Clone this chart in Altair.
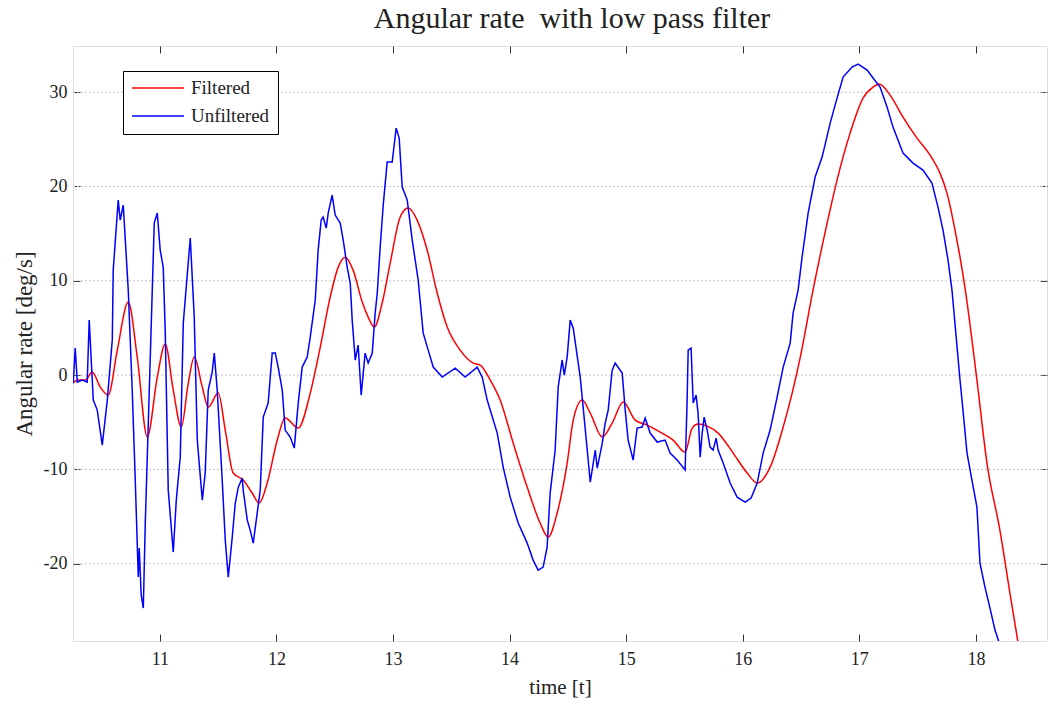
import altair as alt
import pandas as pd

# Unfiltered (blue) signal: time [t], angular rate [deg/s]
blue_t = [10.257, 10.274, 10.292, 10.335, 10.377, 10.394, 10.429, 10.463, 10.506, 10.549,
          10.592, 10.600, 10.643, 10.660, 10.686, 10.729, 10.763, 10.789, 10.815, 10.823,
          10.840, 10.858, 10.875, 10.901, 10.935, 10.952, 10.978, 11.003, 11.029, 11.046,
          11.072, 11.115, 11.141, 11.175, 11.201, 11.261, 11.295, 11.321, 11.364, 11.389,
          11.415, 11.449, 11.467, 11.492, 11.535, 11.561, 11.587, 11.621, 11.647, 11.673,
          11.707, 11.715, 11.750, 11.775, 11.801, 11.835, 11.861, 11.887, 11.929, 11.964,
          11.990, 12.015, 12.050, 12.075, 12.118, 12.153, 12.187, 12.221, 12.264, 12.290,
          12.333, 12.358, 12.384, 12.401, 12.427, 12.444, 12.478, 12.504, 12.547, 12.573,
          12.607, 12.633, 12.650, 12.676, 12.701, 12.727, 12.761, 12.787, 12.822, 12.847,
          12.865, 12.890, 12.916, 12.950, 12.993, 13.027, 13.053, 13.079, 13.122, 13.165,
          13.216, 13.259, 13.302, 13.345, 13.422, 13.534, 13.619, 13.722, 13.765, 13.808,
          13.894, 13.945, 14.005, 14.074, 14.151, 14.202, 14.245, 14.288, 14.322, 14.348,
          14.391, 14.417, 14.451, 14.469, 14.494, 14.520, 14.546, 14.606, 14.631, 14.666,
          14.692, 14.735, 14.752, 14.795, 14.820, 14.846, 14.880, 14.906, 14.966, 14.992,
          15.017, 15.060, 15.094, 15.137, 15.163, 15.206, 15.266, 15.334, 15.377, 15.437,
          15.506, 15.523, 15.532, 15.557, 15.575, 15.600, 15.617, 15.635, 15.652, 15.669,
          15.695, 15.720, 15.746, 15.772, 15.789, 15.832, 15.892, 15.952, 16.021, 16.072,
          16.124, 16.175, 16.235, 16.295, 16.347, 16.407, 16.432, 16.475, 16.509, 16.561,
          16.621, 16.681, 16.750, 16.809, 16.861, 16.938, 16.990, 17.067, 17.118, 17.178,
          17.238, 17.289, 17.375, 17.461, 17.546, 17.623, 17.675, 17.718, 17.761, 17.795,
          17.864, 17.881, 17.924, 17.966, 18.009, 18.035, 18.078, 18.121, 18.164, 18.198,
          18.210]
blue_v = [-0.85, 2.86, -0.74, -0.53, -0.74, 5.83, -2.65, -3.71, -7.42, -2.65,
          3.71, 11.13, 18.56, 16.44, 18.03, 9.01, -1.59, -11.13, -21.42, -18.35,
          -23.33, -24.71, -15.69, -5.09, 9.01, 16.12, 17.18, 13.26, 11.45, 4.77,
          -12.20, -18.77, -13.26, -8.70, 5.51, 14.53, 6.15, -6.89, -13.26, -10.39,
          -1.59, 0.32, 2.33, -1.59, -11.13, -17.50, -21.42, -17.18, -13.57, -11.88,
          -10.92, -12.20, -15.38, -16.44, -17.82, -14.63, -12.20, -4.45, -2.97, 2.33,
          2.33, 0.85, -1.59, -5.83, -6.57, -7.74, -2.97, 0.85, 1.91, 4.03,
          7.95, 13.26, 16.44, 16.76, 15.59, 17.18, 19.09, 16.97, 16.12, 14.32,
          11.45, 9.76, 5.83, 1.59, 3.18, -2.12, 2.33, 1.27, 2.33, 6.57,
          8.70, 13.57, 18.03, 22.59, 22.59, 26.19, 25.13, 19.94, 18.56, 14.32,
          10.07, 4.45, 2.65, 0.85, -0.21, 0.74, -0.21, 0.85, -0.21, -2.65,
          -6.15, -9.76, -12.94, -15.69, -17.82, -19.62, -20.68, -20.36, -18.24, -12.51,
          -7.95, -1.27, 1.59, 0.00, 1.91, 5.83, 4.98, -0.21, -3.39, -7.95,
          -11.35, -7.95, -9.86, -7.21, -5.09, -3.71, 0.53, 1.27, 0.21, -3.71,
          -6.89, -9.01, -5.62, -5.51, -4.56, -6.15, -7.10, -6.89, -8.27, -9.01,
          -10.07, -2.65, 2.65, 2.86, -2.97, -2.12, -4.03, -8.70, -6.15, -4.45,
          -5.83, -7.64, -7.95, -6.68, -7.95, -9.33, -11.45, -12.94, -13.47, -13.04,
          -11.45, -8.27, -5.83, -2.33, 0.85, 3.39, 6.57, 9.01, 12.51, 17.18,
          21.00, 23.12, 26.72, 29.37, 31.60, 32.66, 32.98, 32.34, 31.50, 30.54,
          28.42, 26.30, 23.54, 22.48, 21.74, 20.36, 17.82, 15.38, 12.20, 9.01,
          -0.53, -2.65, -8.27, -11.13, -14.00, -19.94, -22.48, -24.71, -27.04, -28.31,
          -29.20]

# Filtered (red) signal
red_t = [10.257, 10.292, 10.360, 10.420, 10.489, 10.557, 10.635, 10.729, 10.806, 10.892,
         10.978, 11.046, 11.115, 11.184, 11.244, 11.295, 11.364, 11.415, 11.501, 11.561,
         11.629, 11.715, 11.792, 11.852, 11.921, 12.007, 12.075, 12.187, 12.290, 12.376,
         12.461, 12.530, 12.590, 12.658, 12.736, 12.787, 12.839, 12.907, 12.976, 13.062,
         13.130, 13.207, 13.293, 13.379, 13.465, 13.576, 13.688, 13.748, 13.834, 13.919,
         14.031, 14.151, 14.262, 14.331, 14.408, 14.494, 14.546, 14.623, 14.692, 14.795,
         14.880, 14.975, 15.077, 15.180, 15.292, 15.403, 15.506, 15.566, 15.617, 15.695,
         15.789, 15.918, 16.038, 16.124, 16.235, 16.347, 16.492, 16.603, 16.724, 16.809,
         16.921, 17.032, 17.118, 17.170, 17.264, 17.375, 17.495, 17.607, 17.692, 17.752,
         17.821, 17.907, 18.009, 18.095, 18.206, 18.292, 18.361, 18.372]
red_v = [-0.85, -0.53, -0.53, 0.32, -1.27, -2.12, 2.65, 7.74, 1.91, -6.57,
         -0.21, 3.29, -1.59, -5.51, -0.85, 1.91, -1.27, -3.39, -1.91, -5.83,
         -10.39, -11.13, -12.51, -13.57, -11.45, -6.89, -4.56, -5.62, -1.91, 2.97,
         8.27, 11.45, 12.51, 11.13, 7.74, 6.15, 5.09, 7.64, 11.88, 16.76,
         17.71, 16.44, 13.26, 8.70, 5.09, 2.65, 1.27, 1.06, -0.53, -2.65,
         -7.21, -11.88, -15.69, -17.18, -14.63, -9.33, -4.77, -2.65, -4.03, -6.57,
         -5.09, -2.86, -4.77, -5.30, -6.04, -6.89, -8.17, -5.62, -5.20, -5.41,
         -6.15, -8.27, -10.39, -11.45, -9.76, -5.51, 1.80, 9.01, 16.12, 20.68,
         25.66, 29.37, 30.54, 30.86, 29.69, 27.36, 25.13, 23.33, 21.42, 19.30,
         15.38, 9.23, -0.53, -9.33, -16.44, -23.12, -28.31, -29.10]

series_names = ["Filtered", "Unfiltered"]
series_colors = ["#ff0000", "#0000ff"]
x_ticks = [11, 12, 13, 14, 15, 16, 17, 18]
y_ticks = [-20, -10, 0, 10, 20, 30]
x_domain = [10.255, 18.61]
y_domain = [-28.2, 34.9]

red_df = pd.DataFrame({"t": red_t, "v": red_v, "series": "Filtered"})
red_df["i"] = range(len(red_df))
blue_df = pd.DataFrame({"t": blue_t, "v": blue_v, "series": "Unfiltered"})
blue_df["i"] = range(len(blue_df))
grid_df = pd.DataFrame({"g": y_ticks})

FONT = "Liberation Serif"
INK = "#222"
LABEL_EXPR = "datum.value < 0 ? '-' + abs(datum.value) : '' + datum.value"

xscale = alt.Scale(domain=x_domain, nice=False, zero=False)
yscale = alt.Scale(domain=y_domain, nice=False, zero=False)
cscale = alt.Scale(domain=series_names, range=series_colors)

grid = alt.Chart(grid_df).mark_rule(color="#c4c4c4", strokeWidth=1, strokeDash=[2, 2]).encode(
    y=alt.Y("g:Q", scale=yscale, axis=None)
)

x_axis = alt.Axis(orient="bottom", values=x_ticks, offset=-7, tickSize=7, domain=False,
                  grid=False, labelPadding=9, titlePadding=8, tickColor="#333",
                  labelExpr=LABEL_EXPR,
                  labelFont=FONT, labelFontSize=18, titleFont=FONT, titleFontSize=21,
                  titleFontWeight="normal", labelColor=INK, titleColor=INK)
y_axis = alt.Axis(orient="left", values=y_ticks, offset=-7, tickSize=7, domain=False,
                  grid=False, labelPadding=6, titlePadding=7, tickColor="#333",
                  labelExpr=LABEL_EXPR,
                  labelFont=FONT, labelFontSize=18, titleFont=FONT, titleFontSize=23,
                  titleFontWeight="normal", labelColor=INK, titleColor=INK)
legend = alt.Legend(orient="none", legendX=50, legendY=25, title=None,
                    symbolType="stroke", symbolSize=2700, symbolStrokeWidth=1.5,
                    clipHeight=18, strokeColor="black", fillColor="white", padding=8,
                    labelFont=FONT, labelFontSize=19, labelColor=INK,
                    labelOffset=6, rowPadding=9)

red_line = alt.Chart(red_df).mark_line(clip=True, strokeWidth=1.5, interpolate="monotone").encode(
    x=alt.X("t:Q", scale=xscale, title="time [t]", axis=x_axis),
    y=alt.Y("v:Q", scale=yscale, title="Angular rate [deg/s]", axis=y_axis),
    color=alt.Color("series:N", scale=cscale, legend=legend),
    order="i:Q",
)

blue_line = alt.Chart(blue_df).mark_line(clip=True, strokeWidth=1.5).encode(
    x=alt.X("t:Q", scale=xscale, title="time [t]", axis=x_axis),
    y=alt.Y("v:Q", scale=yscale, title="Angular rate [deg/s]", axis=y_axis),
    color=alt.Color("series:N", scale=cscale, legend=legend),
    order="i:Q",
)

main = alt.layer(red_line, blue_line)

ghost = alt.Chart(blue_df).mark_line(opacity=0).encode(
    x=alt.X("t:Q", scale=xscale, title=None,
            axis=alt.Axis(orient="top", values=x_ticks, offset=-7, tickSize=7, domain=False,
                          grid=False, labels=False, tickColor="#333")),
    y=alt.Y("v:Q", scale=yscale, title=None,
            axis=alt.Axis(orient="right", values=y_ticks, offset=-7, tickSize=7, domain=False,
                          grid=False, labels=False, tickColor="#333")),
)

chart = alt.layer(grid, main, ghost).resolve_axis(x="independent", y="independent").properties(
    width=974, height=595,
    autosize=alt.AutoSizeParams(type="none"),
    padding={"left": 73, "top": 46, "right": 2, "bottom": 61},
    title=alt.TitleParams("Angular rate \u00a0with low pass filter", font=FONT, fontSize=30,
                          fontWeight="normal", anchor="middle", frame="group", offset=12,
                          dx=12, color=INK),
).configure_view(stroke=INK, strokeWidth=1.3).configure(background="white")

chart.save("out.html", embed_options={"renderer": "svg", "actions": False})
